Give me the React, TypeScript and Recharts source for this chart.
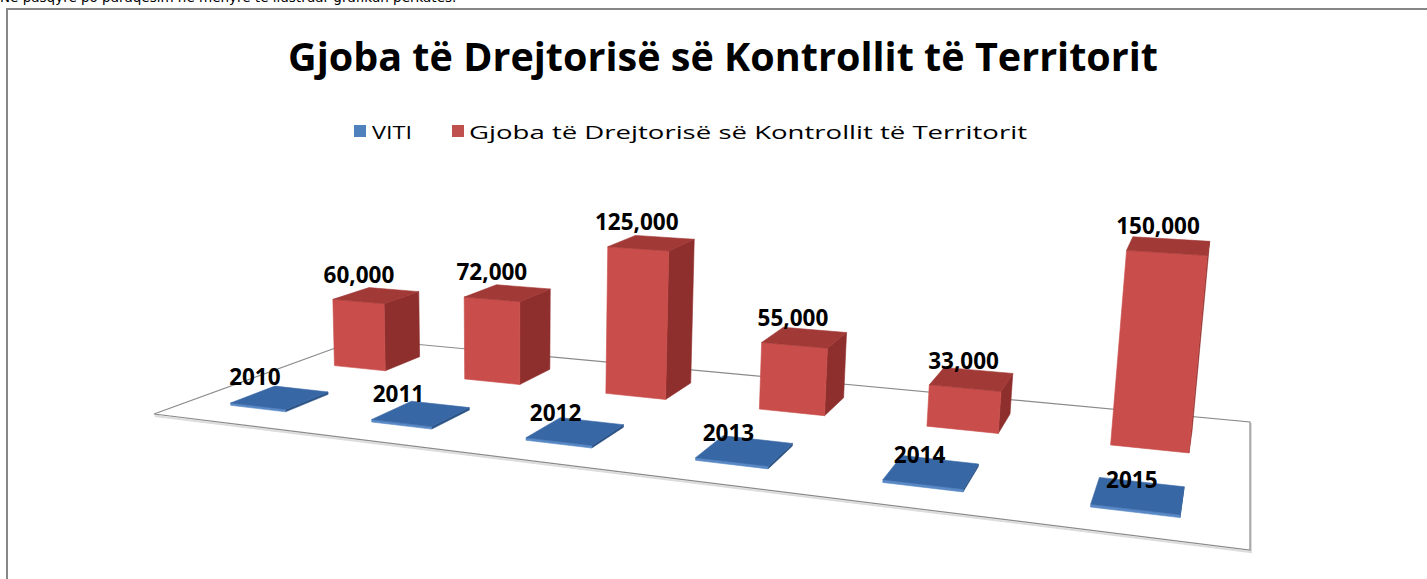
import React from 'react';
import { BarChart, Bar, XAxis, YAxis, LabelList } from 'recharts';

// ---------- data ----------
const years = ['2010', '2011', '2012', '2013', '2014', '2015'];
const vitiValues = [2010, 2011, 2012, 2013, 2014, 2015];
const gjobaValues = [60000, 72000, 125000, 55000, 33000, 150000];
const seriesNames = ['VITI', 'Gjoba të Drejtorisë së Kontrollit të Territorit'];
const titleText = 'Gjoba të Drejtorisë së Kontrollit të Territorit';
const introText = 'Në pasqyrë po paraqesim në mënyrë të ilustruar grafikun përkatës.';

const data = years.map((y, i) => ({ year: y, viti: vitiValues[i], gjoba: gjobaValues[i] }));

// ---------- layout / style ----------
const W = 1427;
const H = 579;
const Y_MAX = 150000;
const FONT = '"Open Sans", "Noto Sans", sans-serif';

// floor quad corners on screen (front-left, front-right, back-right, back-left)
const Q = [
  [154, 414],
  [1250, 550],
  [1250, 422],
  [360, 339],
];
function homography(q: number[][]) {
  const [x0, y0] = q[0], [x1, y1] = q[1], [x2, y2] = q[2], [x3, y3] = q[3];
  const dx1 = x1 - x2, dx2 = x3 - x2, dx3 = x0 - x1 + x2 - x3;
  const dy1 = y1 - y2, dy2 = y3 - y2, dy3 = y0 - y1 + y2 - y3;
  const den = dx1 * dy2 - dx2 * dy1;
  const g = (dx3 * dy2 - dx2 * dy3) / den;
  const h = (dx1 * dy3 - dx3 * dy1) / den;
  return {
    a: x1 - x0 + g * x1, b: x3 - x0 + h * x3, c: x0,
    d: y1 - y0 + g * y1, e: y3 - y0 + h * y3, f: y0, g, h,
  };
}
const HM = homography(Q);
const HEIGHT_SCALE = 182.4 / H; // recharts px -> 3d px at w=1
const PERSP_POW = 0.75;
const LEAN_X = 511;
const LEAN_D = 7300;

function proj(u: number, v: number) {
  const w = HM.g * u + HM.h * v + 1;
  return { x: (HM.a * u + HM.b * v + HM.c) / w, y: (HM.d * u + HM.e * v + HM.f) / w, w };
}
function liftH(p: { w: number }, hpx: number) {
  return (hpx * HEIGHT_SCALE) / Math.pow(p.w, PERSP_POW);
}
function lift(p: { x: number; y: number; w: number }, hpx: number, leanK = 1) {
  const hh = liftH(p, hpx);
  return { x: p.x + (leanK * hh * (p.x - LEAN_X)) / LEAN_D, y: p.y - hh };
}

// depth rows: 0 = front (VITI), 1 = back (Gjoba)
const ROW_HALF = 0.1;
function rowRange(row: number) {
  const c = (row + 0.5) / 2;
  return [c - ROW_HALF, c + ROW_HALF];
}

type Pal = { front: string; right: string; left: string; top: string; back: string; bottom: string };
const RED: Pal = { front: '#C94D4A', right: '#8F2F2D', left: '#A63C39', top: '#A13936', back: '#8F2F2D', bottom: '#8F2F2D' };
const BLUE: Pal = { front: '#5888C5', right: '#2B5284', left: '#3D6BA5', top: '#3767A4', back: '#2B5284', bottom: '#2B5284' };

function area(pts: { x: number; y: number }[]) {
  let s = 0;
  for (let i = 0; i < pts.length; i++) {
    const a = pts[i], b = pts[(i + 1) % pts.length];
    s += a.x * b.y - b.x * a.y;
  }
  return s;
}

function makeBox(row: number, pal: Pal) {
  return (props: any) => {
    const { x, width, height } = props;
    if (x == null || width == null) return <g />;
    const u0 = x / W, u1 = (x + width) / W;
    const [v0, v1] = rowRange(row);
    const hp = Math.max(0, height || 0);
    const b00 = proj(u0, v0), b10 = proj(u1, v0), b11 = proj(u1, v1), b01 = proj(u0, v1);
    const t00 = lift(b00, hp), t10 = lift(b10, hp), t11 = lift(b11, hp), t01 = lift(b01, hp);
    const faces: [string, { x: number; y: number }[]][] = [
      ['bottom', [b01, b11, b10, b00]],
      ['back', [b11, b01, t01, t11]],
      ['left', [b01, b00, t00, t01]],
      ['right', [b10, b11, t11, t10]],
      ['front', [b00, b10, t10, t00]],
      ['top', [t00, t10, t11, t01]],
    ];
    return (
      <g>
        {faces
          .filter(([, pts]) => area(pts) < 0)
          .map(([name, pts]) => (
            <polygon
              key={name}
              points={pts.map((p) => `${p.x.toFixed(2)},${p.y.toFixed(2)}`).join(' ')}
              fill={(pal as any)[name]}
              stroke={(pal as any)[name]}
              strokeWidth={0.6}
              strokeLinejoin="round"
            />
          ))}
      </g>
    );
  };
}

function makeLabel(row: number, fmt: (v: number) => string, dx: number, dy: number) {
  return (props: any) => {
    const { x, width, height, value } = props;
    if (x == null || width == null) return null;
    const uc = (x + width / 2) / W;
    const [v0] = rowRange(row);
    const p = proj(uc, v0);
    const t = lift(p, Math.max(0, height || 0), 0.5);
    return (
      <text
        x={t.x + dx}
        y={t.y + dy}
        textAnchor="middle"
        fontFamily={FONT}
        fontWeight={700}
        fontSize={22.5}
        fill="#000"
      >
        {fmt(Number(value))}
      </text>
    );
  };
}

const fmtThousands = (v: number) => v.toLocaleString('en-US');
const fmtPlain = (v: number) => String(v);

const frontShape = makeBox(0, BLUE);
const backShape = makeBox(1, RED);
const frontLabel = makeLabel(0, fmtPlain, -3, -21);
const backLabel = makeLabel(1, fmtThousands, 0, -19);

const floorPts = [proj(0, 0), proj(1, 0), proj(1, 1), proj(0, 1)];

export default function App() {
  return (
    <div style={{ position: 'fixed', left: 0, top: 0, width: W, height: H, overflow: 'hidden', background: '#fff' }}>
      <div
        style={{
          position: 'absolute',
          left: 0,
          top: -11,
          fontFamily: '"DejaVu Sans", sans-serif',
          fontSize: 13.5,
          lineHeight: '16px',
          whiteSpace: 'nowrap',
          color: '#000',
        }}
      >
        {introText}
      </div>
      <svg width={W} height={H} style={{ position: 'absolute', left: 0, top: 0 }}>
        <rect x={7} y={9} width={W + 20} height={H + 20} fill="#fff" stroke="#878787" strokeWidth={2} />
        <polygon
          points={floorPts.map((p) => `${p.x + 1},${p.y + 2}`).join(' ')}
          fill="none"
          stroke="#dcdcdc"
          strokeWidth={2}
        />
        <polygon
          points={floorPts.map((p) => `${p.x},${p.y}`).join(' ')}
          fill="#fff"
          stroke="#8a8a8a"
          strokeWidth={1.2}
        />
        <text
          x={723}
          y={71}
          textAnchor="middle"
          fontFamily={FONT}
          fontWeight={700}
          fontSize={39}
          textLength={870}
          lengthAdjust="spacingAndGlyphs"
          fill="#000"
        >
          {titleText}
        </text>
        <rect x={354} y={125} width={12} height={12} fill="#4F81BD" />
        <text x={372} y={139} fontFamily={FONT} fontSize={18} textLength={40} lengthAdjust="spacingAndGlyphs" fill="#000">
          {seriesNames[0]}
        </text>
        <rect x={452} y={125} width={12} height={12} fill="#C0504D" />
        <text x={469} y={139} fontFamily={FONT} fontSize={18} textLength={558} lengthAdjust="spacingAndGlyphs" fill="#000">
          {seriesNames[1]}
        </text>
      </svg>
      <div style={{ position: 'absolute', left: 0, top: 0 }}>
        <BarChart width={W} height={H} data={data} margin={{ top: 0, right: 0, bottom: 0, left: 0 }} barCategoryGap="30%">
          <XAxis xAxisId="front" dataKey="year" hide />
          <XAxis xAxisId="back" dataKey="year" hide />
          <YAxis domain={[0, Y_MAX]} hide />
          <Bar xAxisId="front" dataKey="viti" name={seriesNames[0]} fill="#4F81BD" shape={frontShape} isAnimationActive={false}>
            <LabelList dataKey="viti" content={frontLabel} />
          </Bar>
          <Bar xAxisId="back" dataKey="gjoba" name={seriesNames[1]} fill="#C0504D" shape={backShape} isAnimationActive={false}>
            <LabelList dataKey="gjoba" content={backLabel} />
          </Bar>
        </BarChart>
      </div>
    </div>
  );
}
